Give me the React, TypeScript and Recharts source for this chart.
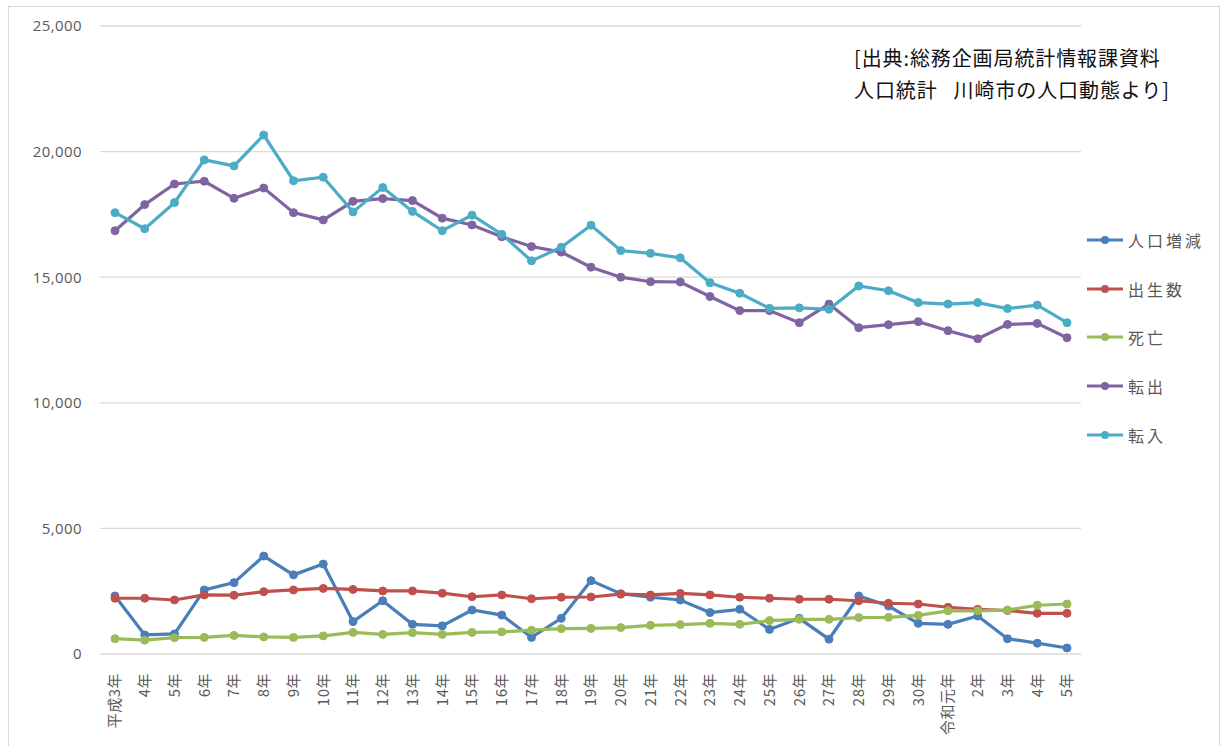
import React from "react";
import { LineChart, Line, XAxis, YAxis, CartesianGrid, Legend } from "recharts";

const categories = [
  "平成3年","4年","5年","6年","7年","8年","9年","10年","11年","12年","13年","14年","15年","16年","17年","18年","19年",
  "20年","21年","22年","23年","24年","25年","26年","27年","28年","29年","30年","令和元年","2年","3年","4年","5年",
];
const popChange = [2310,760,800,2550,2840,3900,3150,3580,1290,2120,1180,1120,1750,1550,660,1420,2920,
  2400,2260,2150,1650,1780,980,1420,590,2310,1910,1220,1180,1510,610,430,240];
const births = [2220,2220,2150,2350,2340,2480,2550,2610,2570,2510,2510,2420,2280,2350,2200,2260,2270,
  2380,2350,2410,2350,2260,2220,2180,2180,2120,2020,1990,1860,1780,1730,1620,1620];
const deaths = [610,550,650,660,740,680,660,720,860,780,850,780,860,880,950,1010,1020,
  1050,1140,1170,1220,1180,1330,1380,1380,1450,1460,1540,1720,1720,1750,1940,1990];
const moveOut = [16850,17890,18710,18820,18140,18550,17570,17280,18020,18130,18050,17350,17080,16610,16220,16000,15400,
  15000,14820,14810,14230,13670,13670,13190,13930,12990,13110,13230,12870,12550,13120,13160,12590];
const moveIn = [17570,16930,17970,19670,19430,20660,18840,18980,17600,18570,17620,16850,17470,16710,15650,16190,17070,
  16060,15950,15770,14780,14360,13760,13780,13720,14650,14460,13990,13930,13990,13750,13890,13190];
const yTicks = [0, 5000, 10000, 15000, 20000, 25000];

const seriesDefs = [
  { key: "人口増減", values: popChange, color: "#4A7EBB" },
  { key: "出生数", values: births, color: "#C0504D" },
  { key: "死亡", values: deaths, color: "#9BBB59" },
  { key: "転出", values: moveOut, color: "#8064A2" },
  { key: "転入", values: moveIn, color: "#4BACC6" },
];

const data = categories.map((c, i) => {
  const row: Record<string, string | number> = { name: c };
  seriesDefs.forEach((s) => (row[s.key] = s.values[i]));
  return row;
});

const FONT = "'Noto Sans CJK JP', 'Noto Sans', sans-serif";

const XTick = (props: any) => {
  const { x, y, payload } = props;
  return (
    <g transform={`translate(${x},${y + 11})`}>
      <text
        transform="rotate(-90)"
        textAnchor="end"
        dy="0.36em"
        fill="#595959"
        fontSize={15}
        letterSpacing={0.5}
        fontFamily={FONT}
      >
        {payload.value}
      </text>
    </g>
  );
};

const LegendContent = () => (
  <div style={{ fontFamily: FONT, fontSize: 16, letterSpacing: 3, color: "#595959" }}>
    {seriesDefs.map((s) => (
      <div key={s.key} style={{ height: 48.7, display: "flex", alignItems: "flex-start" }}>
        <svg width={40} height={22} style={{ display: "block" }}>
          <line x1={1} y1={11} x2={37} y2={11} stroke={s.color} strokeWidth={3} />
          <circle cx={19} cy={11} r={4} fill={s.color} />
        </svg>
        <span style={{ lineHeight: "22px", marginLeft: 2, whiteSpace: "nowrap" }}>{s.key}</span>
      </div>
    ))}
  </div>
);

export default function App() {
  return (
    <div style={{ position: "absolute", left: 0, top: 0, width: 1223, height: 746, overflow: "hidden", background: "#fff" }}>
      <div style={{ position: "absolute", left: 8, top: 6, width: 1210, height: 780, border: "1px solid #D9D9D9" }} />
      <LineChart
        width={1223}
        height={746}
        data={data}
        margin={{ top: 26, right: 2, bottom: 0, left: 0 }}
        style={{ position: "absolute", left: 0, top: 0 }}
      >
        <CartesianGrid vertical={false} stroke="#D9D9D9" strokeWidth={1.3} />
        <XAxis
          dataKey="name"
          interval={0}
          tick={<XTick />}
          tickLine={false}
          axisLine={false}
          height={92}
          padding={{ left: 15, right: 14 }}
        />
        <YAxis
          domain={[0, 25000]}
          ticks={yTicks}
          tickFormatter={(v: number) => v.toLocaleString("en-US")}
          tick={{ fill: "#595959", fontSize: 15, letterSpacing: 0.4, fontFamily: "'Open Sans', sans-serif" }}
          tickLine={false}
          axisLine={false}
          tickSize={0}
          tickMargin={18}
          width={100}
        />
        <Legend
          layout="vertical"
          align="right"
          verticalAlign="top"
          width={140}
          content={<LegendContent />}
          wrapperStyle={{ left: 1086, top: 229, width: 140 }}
        />
        {seriesDefs.map((s) => (
          <Line
            key={s.key}
            dataKey={s.key}
            stroke={s.color}
            strokeWidth={3.2}
            dot={{ r: 4, fill: s.color, stroke: s.color, strokeWidth: 1 }}
            activeDot={false}
            isAnimationActive={false}
          />
        ))}
      </LineChart>
      <div
        style={{
          position: "absolute",
          left: 854,
          top: 42,
          fontFamily: FONT,
          fontSize: 20,
          letterSpacing: 0.9,
          lineHeight: "32px",
          color: "#111",
          whiteSpace: "nowrap",
        }}
      >
        <div>[出典:総務企画局統計情報課資料</div>
        <div>
          人口統計<span style={{ display: "inline-block", width: 16 }} />川崎市の人口動態より]
        </div>
      </div>
    </div>
  );
}
